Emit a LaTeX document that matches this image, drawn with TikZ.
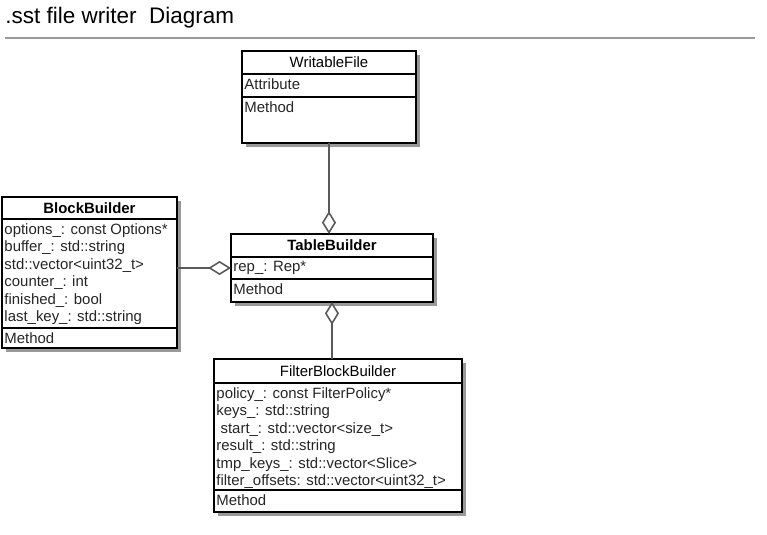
\documentclass[tikz,border=0pt]{standalone}
\usepackage{fontspec}
\setmainfont{Liberation Sans}
\usetikzlibrary{arrows.meta,shadows}

\tikzset{
  part/.style={draw=black, line width=1.4pt, fill=white, anchor=north west,
    inner sep=0pt, outer sep=0pt, font=\fontsize{8.5pt}{10pt}\selectfont,
    drop shadow={shadow xshift=2.5pt, shadow yshift=-2.5pt, fill=black!40, opacity=1}},
  bold/.style={font=\fontsize{8.5pt}{10pt}\selectfont\bfseries},
  member/.style={anchor=north west, inner xsep=1.2pt, inner ysep=2.2pt, align=left, text=black!85,
    font=\fontsize{8.5pt}{10pt}\selectfont},
  agg/.style={draw=black!65, line width=1.2pt,
    -{Diamond[open, fill=white, length=13pt, width=8pt, line width=0.9pt]}}
}

\begin{document}
\begin{tikzpicture}[x=0.02cm,y=-0.02cm]
\useasboundingbox (0,0) rectangle (767,534);

% title
\node[anchor=west, inner sep=0pt, font=\fontsize{12.8pt}{15pt}\selectfont] (title) at (5,18) {.sst file writer\ \ Diagram};
\draw[black!40, line width=1.7pt] (5,38) -- (755,38);

% WritableFile
\node[part, minimum width=3.48cm, minimum height=0.46cm] (wf) at (242,51) {WritableFile};
\node[part, minimum width=3.48cm, minimum height=0.46cm] (wf-attr) at (wf.south west) {};
\node[part, minimum width=3.48cm, minimum height=0.92cm] (wf-meth) at (wf-attr.south west) {};
\node[member] (wf-attr-t) at (wf-attr.north west) {Attribute};
\node[member] (wf-meth-t) at (wf-meth.north west) {Method};

% BlockBuilder
\node[part, bold, minimum width=3.5cm, minimum height=0.44cm] (bb) at (2,197) {BlockBuilder};
\node[part, minimum width=3.5cm, minimum height=2.18cm] (bb-attr) at (bb.south west) {};
\node[part, minimum width=3.5cm, minimum height=0.40cm] (bb-meth) at (bb-attr.south west) {};
\node[member] (bb-attr-t) at (bb-attr.north west) {options\_: const Options*\\buffer\_: std::string\\std::vector<uint32\_t>\\counter\_: int\\finished\_: bool\\last\_key\_: std::string};
\node[member] (bb-meth-t) at (bb-meth.north west) {Method};

% TableBuilder
\node[part, bold, minimum width=4.04cm, minimum height=0.46cm] (tb) at (231,234) {TableBuilder};
\node[part, minimum width=4.04cm, minimum height=0.44cm] (tb-attr) at (tb.south west) {};
\node[part, minimum width=4.04cm, minimum height=0.46cm] (tb-meth) at (tb-attr.south west) {};
\node[member] (tb-attr-t) at (tb-attr.north west) {rep\_: Rep*};
\node[member] (tb-meth-t) at (tb-meth.north west) {Method};

% FilterBlockBuilder
\node[part, minimum width=4.96cm, minimum height=0.48cm] (fb) at (214,359) {FilterBlockBuilder};
\node[part, minimum width=4.96cm, minimum height=2.14cm] (fb-attr) at (fb.south west) {};
\node[part, minimum width=4.96cm, minimum height=0.44cm] (fb-meth) at (fb-attr.south west) {};
\node[member] (fb-attr-t) at (fb-attr.north west) {policy\_: const FilterPolicy*\\keys\_: std::string\\\ start\_: std::vector<size\_t>\\result\_: std::string\\tmp\_keys\_: std::vector<Slice>\\filter\_offsets: std::vector<uint32\_t>};
\node[member] (fb-meth-t) at (fb-meth.north west) {Method};

% aggregations
\draw[agg] (wf-meth.south) -- (wf-meth.south |- tb.north);
\draw[agg] (bb-attr.east |- tb-attr.west) -- (tb-attr.west);
\draw[agg] (tb-meth.south |- fb.north) -- (tb-meth.south);

\end{tikzpicture}
\end{document}
